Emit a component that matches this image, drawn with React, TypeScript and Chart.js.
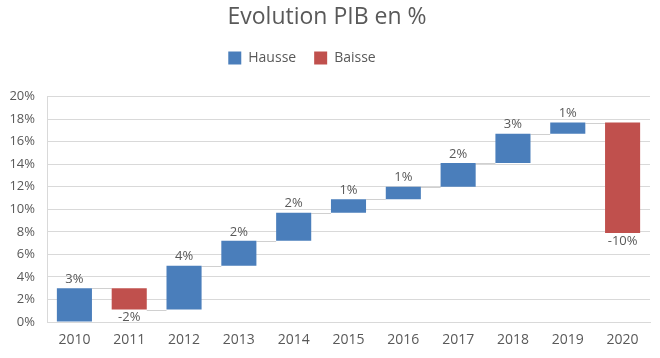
import React, { useEffect, useRef } from "react";
import { Chart, registerables } from "chart.js";

Chart.register(...registerables);

const years = ["2010", "2011", "2012", "2013", "2014", "2015", "2016", "2017", "2018", "2019", "2020"];
// cumulative levels (%) : bar i spans levels[i] -> levels[i+1]
const levels = [0, 3.0, 1.1, 5.0, 7.2, 9.7, 10.9, 12.0, 14.1, 16.7, 17.7, 7.9];
const valueLabels = ["3%", "-2%", "4%", "2%", "2%", "1%", "1%", "2%", "3%", "1%", "-10%"];
const yTicks = [0, 2, 4, 6, 8, 10, 12, 14, 16, 18, 20];

const BLUE = "#4a7ebb";
const RED = "#c0504d";
const TEXT = "#595959";
const FONT = "'Open Sans', 'Liberation Sans', sans-serif";
const LEGEND_PAD = 18;

export default function App() {
  const ref = useRef<HTMLCanvasElement | null>(null);

  useEffect(() => {
    document.body.style.margin = "0";
    const canvas = ref.current;
    if (!canvas) return;

    const hausse = years.map((_, i) => (levels[i + 1] >= levels[i] ? [levels[i], levels[i + 1]] : null));
    const baisse = years.map((_, i) => (levels[i + 1] < levels[i] ? [levels[i + 1], levels[i]] : null));

    const legendShift = {
      id: "legendShift",
      afterLayout(chart: any) {
        const lg = chart.legend;
        if (!lg) return;
        const targetCenter = 58;
        const curCenter = lg.top + LEGEND_PAD + 7;
        const dy = targetCenter - curCenter;
        lg.top += dy;
        lg.bottom += dy;
        lg.left -= 25;
        lg.right -= 25;
      },
    };

    const connectors = {
      id: "connectors",
      beforeDatasetsDraw(chart: any) {
        const ctx = chart.ctx;
        const y = chart.scales.y;
        const metas = [chart.getDatasetMeta(0), chart.getDatasetMeta(1)];
        const barAt = (i: number) => {
          for (let d = 0; d < 2; d++) {
            const v = chart.data.datasets[d].data[i];
            if (v) return metas[d].data[i];
          }
          return null;
        };
        ctx.save();
        ctx.strokeStyle = "#d0d0d0";
        ctx.lineWidth = 1;
        for (let i = 0; i < years.length - 1; i++) {
          const a: any = barAt(i);
          const b: any = barAt(i + 1);
          if (!a || !b) continue;
          const yy = Math.round(y.getPixelForValue(levels[i + 1])) + 0.5;
          ctx.beginPath();
          ctx.moveTo(a.x + a.width / 2, yy);
          ctx.lineTo(b.x - b.width / 2, yy);
          ctx.stroke();
        }
        ctx.restore();
      },
    };

    const dataLabels = {
      id: "dataLabels",
      afterDatasetsDraw(chart: any) {
        const ctx = chart.ctx;
        const y = chart.scales.y;
        ctx.save();
        ctx.fillStyle = TEXT;
        ctx.font = `13px ${FONT}`;
        ctx.textAlign = "center";
        for (let d = 0; d < 2; d++) {
          const meta = chart.getDatasetMeta(d);
          chart.data.datasets[d].data.forEach((v: any, i: number) => {
            if (!v) return;
            const el: any = meta.data[i];
            const up = levels[i + 1] >= levels[i];
            ctx.textBaseline = "middle";
            if (up) {
              ctx.fillText(valueLabels[i], el.x, y.getPixelForValue(levels[i + 1]) - 9);
            } else {
              ctx.fillText(valueLabels[i], el.x, y.getPixelForValue(levels[i + 1]) + 8);
            }
          });
        }
        ctx.restore();
      },
    };

    const chart = new Chart(canvas, {
      type: "bar",
      data: {
        labels: years,
        datasets: [
          { label: "Hausse", data: hausse as any, backgroundColor: BLUE, grouped: false, barPercentage: 0.64, categoryPercentage: 1 } as any,
          { label: "Baisse", data: baisse as any, backgroundColor: RED, grouped: false, barPercentage: 0.64, categoryPercentage: 1 } as any,
        ],
      },
      options: {
        responsive: false,
        animation: false,
        layout: { padding: { left: 4, right: 10, top: 2, bottom: 0 } },
        plugins: {
          title: {
            display: true,
            text: "Evolution PIB en %",
            color: TEXT,
            font: { family: FONT, size: 23, weight: "normal" },
            padding: { top: 2, bottom: 23 },
          },
          legend: {
            display: true,
            labels: {
              color: TEXT,
              font: { family: FONT, size: 14 },
              boxWidth: 13,
              boxHeight: 13,
              padding: LEGEND_PAD,
            },
          },
          tooltip: { enabled: false },
        },
        scales: {
          x: {
            grid: { display: false, drawTicks: false },
            border: { display: true, color: "#d9d9d9" },
            ticks: { color: TEXT, font: { family: FONT, size: 14, lineHeight: 1 }, padding: 11 },
          },
          y: {
            min: 0,
            max: 20,
            afterBuildTicks: (s: any) => {
              s.ticks = yTicks.map((v) => ({ value: v }));
            },
            afterFit: (s: any) => {
              s.width = 43;
            },
            grid: { color: "#d9d9d9", drawTicks: false },
            border: { display: true, color: "#d9d9d9" },
            ticks: {
              color: TEXT,
              font: { family: FONT, size: 13 },
              padding: 12,
              callback: (v: any) => `${v}%`,
            },
          },
        },
      },
      plugins: [legendShift, connectors, dataLabels],
    });

    return () => chart.destroy();
  }, []);

  return <canvas ref={ref} width={660} height={358} style={{ display: "block" }} />;
}
